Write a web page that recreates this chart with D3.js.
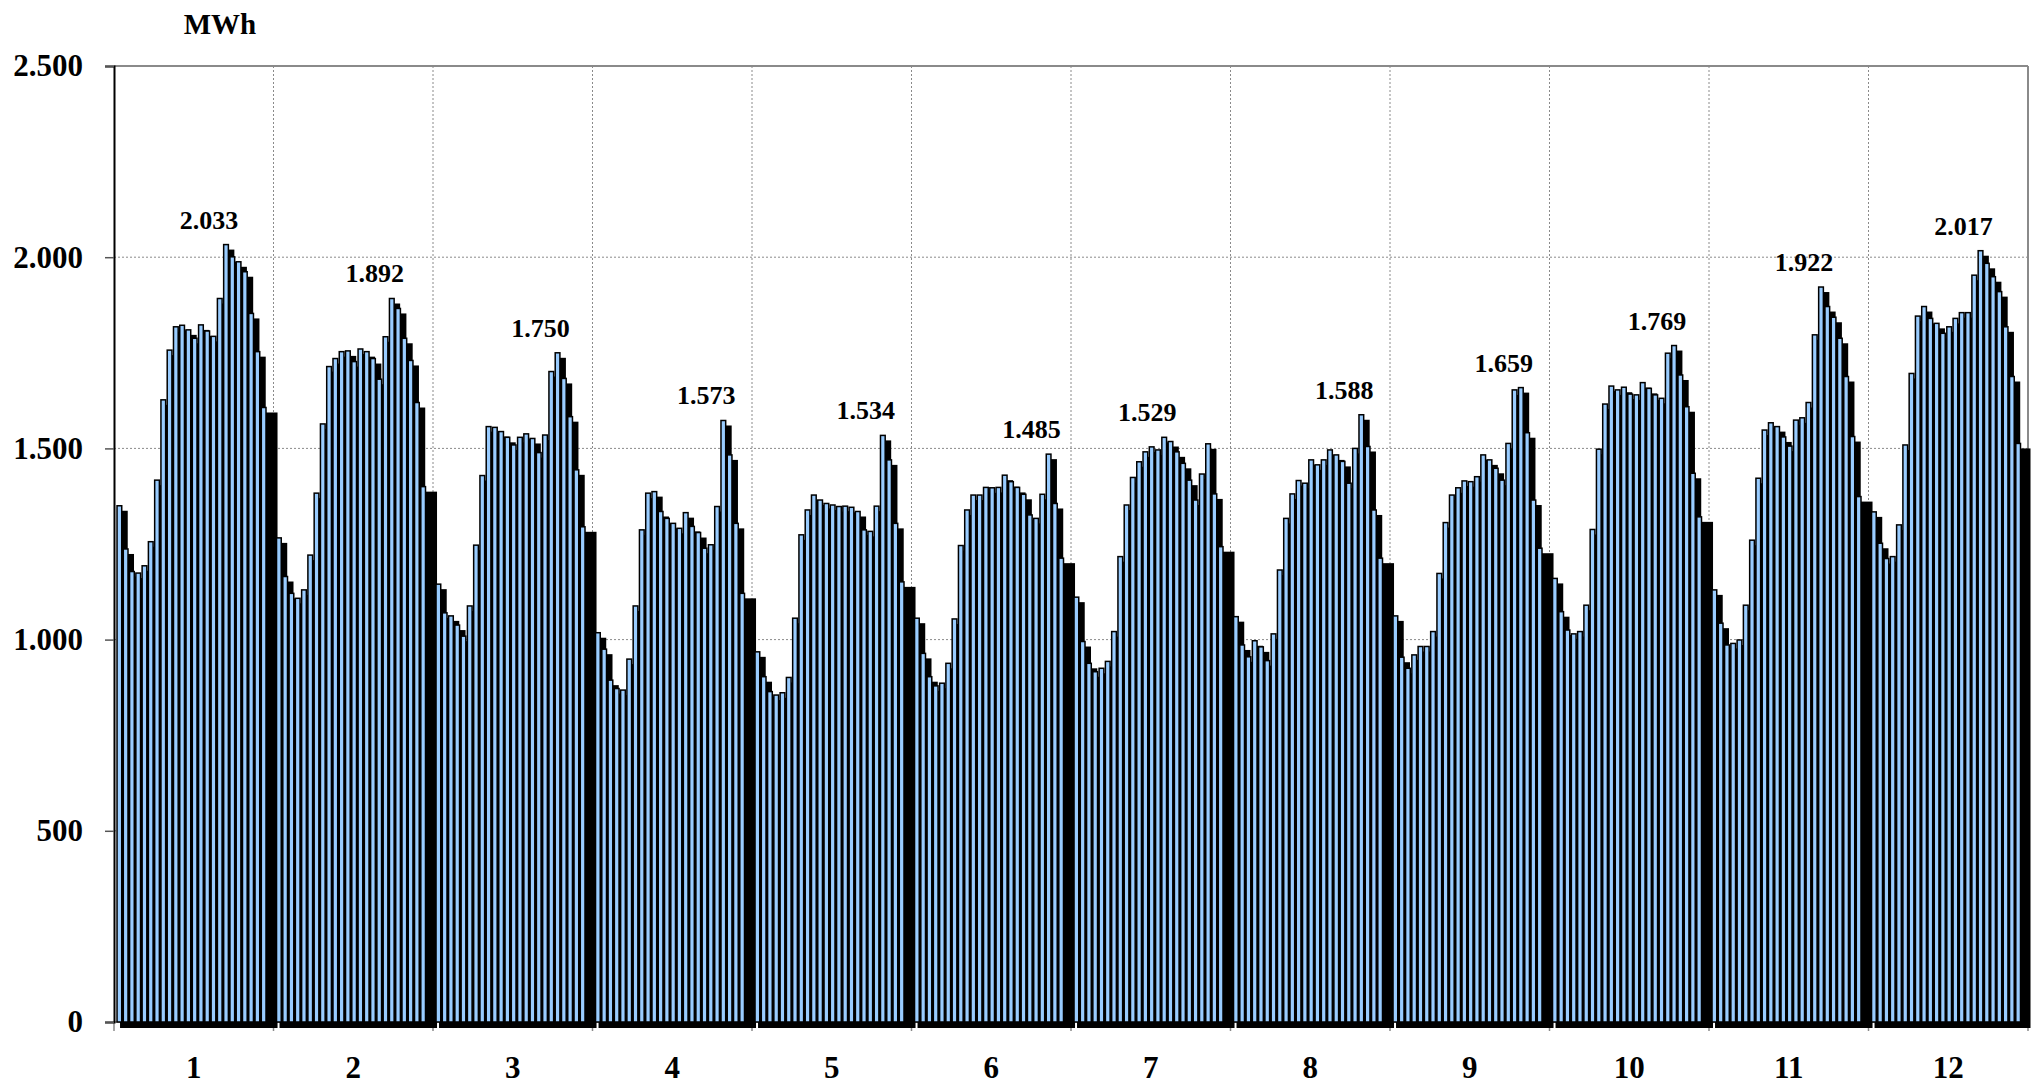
<!DOCTYPE html>
<html>
<head>
<meta charset="utf-8">
<script src="https://cdn.jsdelivr.net/npm/d3@7"></script>
<style>
  html, body { margin: 0; padding: 0; background: #fff; }
  svg { display: block; }
  text { font-family: "Liberation Serif", "Times New Roman", serif; font-weight: bold; fill: #000; }
</style>
</head>
<body>
<svg id="chart" width="2044" height="1087"></svg>
<script>
// ---- data (MWh, hourly profile for each month) ----
const months = ["1","2","3","4","5","6","7","8","9","10","11","12"];
const yTicks = [0, 500, 1000, 1500, 2000, 2500];
const unitLabel = "MWh";

const month1  = [1350,1237,1178,1174,1193,1256,1417,1627,1757,1818,1822,1810,1788,1823,1807,1793,1892,2033,2001,1988,1962,1853,1753,1607];
const month2  = [1266,1165,1121,1108,1130,1221,1383,1564,1714,1735,1753,1755,1727,1760,1753,1735,1681,1792,1892,1866,1788,1730,1620,1400];
const month3  = [1145,1070,1062,1038,1009,1088,1247,1429,1557,1555,1544,1529,1509,1529,1538,1526,1489,1535,1701,1750,1683,1583,1444,1295];
const month4  = [1018,975,894,872,868,949,1088,1287,1383,1387,1335,1317,1304,1291,1332,1296,1280,1239,1248,1348,1573,1483,1304,1121];
const month5  = [968,903,864,855,861,901,1056,1274,1339,1378,1365,1356,1352,1348,1349,1346,1335,1287,1283,1349,1534,1470,1304,1151];
const month6  = [1056,964,903,879,886,938,1054,1246,1339,1378,1378,1398,1397,1398,1430,1413,1398,1380,1326,1317,1380,1485,1356,1213];
const month7  = [1111,995,938,916,925,943,1021,1217,1352,1424,1465,1491,1504,1496,1529,1518,1491,1461,1417,1365,1433,1512,1381,1243];
const month8  = [1060,986,955,997,981,945,1015,1182,1317,1381,1416,1409,1470,1457,1470,1496,1483,1466,1409,1500,1588,1505,1339,1213];
const month9  = [1062,954,925,960,982,982,1021,1173,1306,1378,1397,1415,1413,1426,1483,1470,1448,1417,1513,1653,1659,1541,1365,1239];
const month10 = [1160,1073,1025,1015,1021,1090,1288,1498,1616,1663,1653,1660,1642,1640,1672,1657,1640,1631,1749,1769,1692,1609,1435,1321];
const month11 = [1130,1043,986,990,999,1090,1260,1422,1548,1567,1557,1530,1506,1574,1580,1620,1797,1922,1871,1843,1788,1688,1531,1374];
const month12 = [1334,1252,1212,1217,1300,1509,1696,1846,1871,1840,1827,1801,1818,1840,1855,1855,1953,2017,1984,1949,1910,1818,1688,1513];

const series = [month1,month2,month3,month4,month5,month6,month7,month8,month9,month10,month11,month12];
const hours = d3.range(24);

// ---- layout ----
const svg = d3.select("#chart");
const plot = { left: 114, right: 2028, top: 66, bottom: 1022 };

const y = d3.scaleLinear().domain([0, 2500]).range([plot.bottom, plot.top]);
const xMonth = d3.scaleBand().domain(months).range([plot.left, plot.right]).padding(0);
const mw = xMonth.bandwidth();
const xHour = d3.scaleBand().domain(hours).range([mw * 0.019, mw * 0.953]).paddingInner(0.25).paddingOuter(0);
const bw = xHour.bandwidth();

const loc = d3.formatLocale({ decimal: ",", thousands: ".", grouping: [3], currency: ["", ""] });
const fmt = loc.format(",d");

// ---- grid ----
const grid = svg.append("g");
grid.selectAll("line.h").data(yTicks.filter(t => t > 0 && t < 2500)).join("line")
  .attr("x1", plot.left).attr("x2", plot.right)
  .attr("y1", d => y(d)).attr("y2", d => y(d))
  .attr("stroke", "#8a8a8a").attr("stroke-width", 1).attr("stroke-dasharray", "2,2");
grid.selectAll("line.v").data(months.slice(1)).join("line")
  .attr("x1", d => xMonth(d)).attr("x2", d => xMonth(d))
  .attr("y1", plot.top).attr("y2", plot.bottom)
  .attr("stroke", "#8a8a8a").attr("stroke-width", 1).attr("stroke-dasharray", "2,2");
grid.append("line").attr("x1", plot.left).attr("x2", plot.right)
  .attr("y1", y(2500)).attr("y2", y(2500)).attr("stroke", "#8a8a8a").attr("stroke-width", 2);
grid.append("line").attr("x1", plot.right).attr("x2", plot.right)
  .attr("y1", plot.top).attr("y2", plot.bottom).attr("stroke", "#8a8a8a").attr("stroke-width", 2);

// ---- x axis baseline and ticks ----
const xa = svg.append("g");
xa.append("line").attr("x1", plot.left).attr("x2", plot.right)
  .attr("y1", plot.bottom).attr("y2", plot.bottom).attr("stroke", "#8a8a8a").attr("stroke-width", 1.5);
xa.selectAll("line.t").data(months.concat(["end"])).join("line")
  .attr("x1", (d, i) => plot.left + i * mw).attr("x2", (d, i) => plot.left + i * mw)
  .attr("y1", plot.bottom).attr("y2", plot.bottom + 9)
  .attr("stroke", "#8a8a8a").attr("stroke-width", 1.5);
xa.selectAll("text").data(months).join("text")
  .attr("x", d => xMonth(d) + mw / 2).attr("y", 1078)
  .attr("text-anchor", "middle").attr("font-size", 31).text(d => d);

// ---- bars (with dark depth shading to the right) ----
const flat = [];
series.forEach((arr, mi) => arr.forEach((v, h) => flat.push({ m: months[mi], mi, h, v })));

const barsG = svg.append("g");
const shadowDx = 3, shadowDy = 5;
flat.forEach(d => {
  const x0 = xMonth(d.m) + xHour(d.h);
  let x1;
  if (d.h === 23) {
    const nextStart = (d.mi < 11) ? xMonth(months[d.mi + 1]) + xHour(0) : x0 + bw + 9;
    x1 = nextStart + 1;
  } else {
    x1 = x0 + bw + 6;
  }
  barsG.append("rect")
    .attr("x", x0 + shadowDx).attr("y", y(d.v) + shadowDy)
    .attr("width", x1 - (x0 + shadowDx)).attr("height", plot.bottom - y(d.v) + 1)
    .attr("fill", "#000");
  barsG.append("rect")
    .attr("x", x0).attr("y", y(d.v))
    .attr("width", bw).attr("height", plot.bottom - y(d.v))
    .attr("fill", "#99ccff").attr("stroke", "#000").attr("stroke-width", 1.5);
});

// ---- y axis ----
const yAxis = d3.axisLeft(y).tickValues(yTicks).tickSize(9).tickPadding(22).tickFormat(fmt);
const ya = svg.append("g").attr("transform", `translate(${plot.left},0)`).call(yAxis);
ya.select(".domain").attr("stroke", "#000").attr("stroke-width", 2);
ya.selectAll(".tick line").attr("stroke", "#555").attr("stroke-width", 1.5);
ya.selectAll(".tick text").attr("font-size", 31)
  .attr("font-family", "Liberation Serif, Times New Roman, serif").attr("font-weight", "bold").attr("fill", "#000");

// ---- unit label ----
svg.append("text").attr("x", 220).attr("y", 34).attr("text-anchor", "middle")
  .attr("font-size", 29).text(unitLabel);

// ---- peak labels ----
series.forEach((arr, mi) => {
  const peak = d3.max(arr);
  const idx = arr.indexOf(peak);
  svg.append("text")
    .attr("x", xMonth(months[mi]) + xHour(idx) + bw / 2 - 17)
    .attr("y", y(peak) - 16)
    .attr("text-anchor", "middle").attr("font-size", 26)
    .text(fmt(peak));
});
</script>
</body>
</html>
